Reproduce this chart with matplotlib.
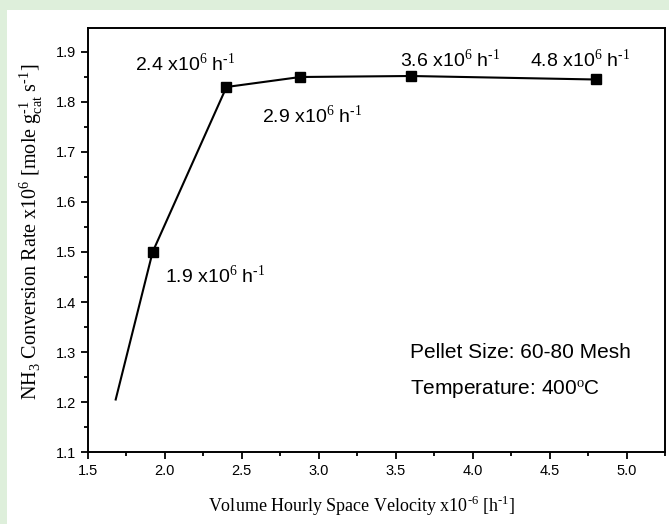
import matplotlib
matplotlib.use("Agg")
import matplotlib.pyplot as plt
from matplotlib.patches import Rectangle
from matplotlib.ticker import MultipleLocator

# Data
x_vals = [1.68, 1.92, 2.40, 2.88, 3.60, 4.80]
y_vals = [1.205, 1.50, 1.83, 1.85, 1.852, 1.845]
x_ticks = [1.5, 2.0, 2.5, 3.0, 3.5, 4.0, 4.5, 5.0]
y_ticks = [1.1, 1.2, 1.3, 1.4, 1.5, 1.6, 1.7, 1.8, 1.9]
point_labels = [r"1.9 x10$^{6}$ h$^{\text{-1}}$", r"2.4 x10$^{6}$ h$^{\text{-1}}$", r"2.9 x10$^{6}$ h$^{\text{-1}}$",
                r"3.6 x10$^{6}$ h$^{\text{-1}}$", r"4.8 x10$^{6}$ h$^{\text{-1}}$"]
label_pos = [(2.00, 1.453), (1.805, 1.878), (2.63, 1.773), (3.53, 1.886), (4.37, 1.886)]

plt.rcParams["mathtext.fontset"] = "custom"
plt.rcParams["mathtext.rm"] = "Liberation Sans"
plt.rcParams["mathtext.it"] = "Liberation Sans"

fig = plt.figure(figsize=(6.69, 5.24), dpi=100, facecolor="#deefdb")
bg = Rectangle((7/669, 0), 1, (524-10)/524, transform=fig.transFigure,
               facecolor="white", edgecolor="none", zorder=-10)
fig.add_artist(bg)

ax = fig.add_axes([88/669, 1-452/524, (665-88)/669, (452-28)/524])
ax.set_facecolor("white")
ax.plot(x_vals, y_vals, color="black", lw=1.5, marker="s", ms=6.5,
        markevery=list(range(1, len(x_vals))))
ax.set_xlim(1.5, 5.25)
ax.set_ylim(1.1, 1.948)
ax.set_xticks(x_ticks)
ax.set_yticks(y_ticks)
ax.set_xticklabels([f"{v:.1f}" for v in x_ticks], family="Liberation Sans", fontsize=10.5)
ax.set_yticklabels([f"{v:.1f}" for v in y_ticks], family="Liberation Sans", fontsize=10.5)
ax.xaxis.set_minor_locator(MultipleLocator(0.25))
ax.yaxis.set_minor_locator(MultipleLocator(0.05))
ax.tick_params(which="both", direction="out", top=False, right=False, width=1.3)
ax.tick_params(which="major", length=5)
ax.tick_params(which="minor", length=3)
for s in ax.spines.values():
    s.set_linewidth(1.4)

for (lx, ly), t in zip(label_pos, point_labels):
    ax.text(lx, ly, t, family="Liberation Sans", fontsize=14, va="center", ha="left")

ax.text(3.59, 1.298, "Pellet Size: 60-80 Mesh", family="Liberation Sans", fontsize=15, va="center")
ax.text(3.59, 1.224, "Temperature: 400$^{\\mathrm{o}}$C", family="Liberation Sans", fontsize=15, va="center")

plt.rcParams["mathtext.rm"] = "Liberation Serif"
ax.set_xlabel(r"Volume Hourly Space Velocity x10$^{\text{-6}}$ [h$^{\text{-1}}$]",
              family="Liberation Serif", fontsize=13)
ax.set_ylabel(r"NH$_{\mathregular{3}}$ Conversion Rate x10$^{\mathregular{6}}$ [mole g$_{\mathregular{cat}}^{\text{-1}}$ s$^{\text{-1}}$]",
              family="Liberation Serif", fontsize=14.5)
ax.xaxis.set_label_coords(0.475, -0.1)
ax.yaxis.set_label_coords(-0.075, 0.519)

fig.savefig("out.png", dpi=100, facecolor=fig.get_facecolor())
